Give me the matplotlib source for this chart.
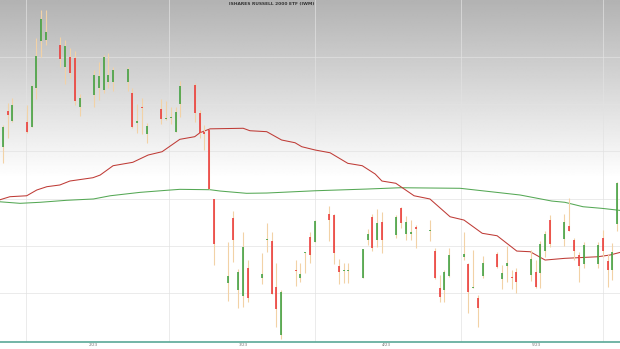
import numpy as np
import pandas as pd
import matplotlib
matplotlib.use("Agg")
import matplotlib.pyplot as plt

# ==============================================================================
# DATA
# ==============================================================================
TITLE = "ISHARES RUSSELL 2000 ETF (IWM)"
START_DATE = "2023-01-18"

OPENS = [185.48, 189.26, 188.20, 188.06, 187.59, 191.66, 196.66, 196.80, 196.24, 193.94,
         194.94, 194.83, 189.65, 190.95, 191.72, 191.48, 192.29, 192.36, 192.36, 191.13,
         188.02, 189.71, 186.79, 189.44, 188.38, 188.48, 187.07, 190.00, 192.01, 189.01,
         187.03, 187.25, 179.91, 171.03, 177.90, 170.32, 169.68, 172.68, 171.62, 175.61,
         175.50, 170.63, 165.56, 172.43, 171.62, 174.20, 175.89, 175.43, 178.33, 178.25,
         172.86, 172.33, 172.33, 171.56, 175.61, 178.07, 175.61, 177.48, 176.14, 178.96,
         176.21, 176.27, 177.01, 176.56, 174.44, 170.56, 170.32, 171.83, 173.84, 173.04,
         170.56, 169.44, 171.83, 174.09, 171.48, 172.89, 171.72, 172.25, 171.90, 172.19,
         172.08, 174.44, 177.72, 175.71, 177.12, 175.61, 174.02, 173.04, 173.04, 175.79,
         173.39, 172.43, 177.27]
HIGHS = [187.77, 190.13, 190.60, 189.89, 192.01, 196.95, 199.94, 199.94, 197.05, 196.77,
         195.89, 195.60, 191.02, 193.59, 194.47, 195.18, 195.36, 193.94, 193.94, 191.72,
         189.96, 190.60, 187.95, 190.49, 190.31, 189.71, 189.71, 192.43, 192.19, 189.36,
         187.77, 187.25, 179.91, 175.36, 178.68, 172.54, 176.49, 173.49, 174.20, 177.37,
         176.42, 173.14, 170.32, 173.49, 173.21, 174.37, 176.42, 177.72, 179.20, 178.33,
         173.60, 173.14, 173.14, 174.62, 176.77, 178.33, 178.89, 178.54, 178.25, 179.13,
         178.15, 177.72, 177.19, 177.72, 174.79, 171.90, 172.43, 174.73, 176.42, 173.14,
         174.55, 169.79, 173.95, 174.37, 172.96, 175.00, 172.43, 172.61, 174.55, 173.49,
         175.50, 176.56, 178.25, 178.33, 180.08, 175.79, 174.37, 175.36, 175.36, 176.67,
         174.09, 175.26, 181.78]
LOWS = [183.75, 186.37, 188.06, 186.90, 187.59, 190.53, 194.94, 196.24, 193.91, 192.11,
        192.72, 189.89, 188.76, 189.65, 190.42, 191.13, 191.72, 191.37, 191.37, 187.43,
        186.90, 186.79, 185.84, 187.85, 188.30, 187.88, 187.00, 188.65, 188.12, 186.37,
        185.13, 180.97, 172.96, 169.15, 173.31, 168.38, 168.55, 169.02, 170.92, 174.37,
        169.86, 166.43, 165.10, 170.77, 171.13, 172.08, 173.14, 175.36, 175.50, 173.04,
        170.92, 171.03, 171.09, 171.56, 175.08, 174.44, 174.90, 174.20, 175.79, 176.85,
        175.61, 175.61, 174.79, 175.50, 171.48, 169.08, 169.08, 171.72, 173.49, 167.85,
        170.50, 166.43, 171.56, 172.61, 170.42, 171.13, 170.42, 169.97, 171.27, 170.50,
        170.50, 173.84, 174.90, 175.00, 176.56, 173.49, 171.13, 172.68, 172.61, 173.84,
        170.67, 171.38, 176.56]
CLOSES = [187.59, 188.83, 189.89, 187.07, 191.90, 195.07, 198.99, 197.65, 194.76, 196.13,
          193.24, 190.31, 190.66, 193.06, 192.96, 195.00, 193.06, 193.59, 193.67, 187.59,
          188.20, 189.60, 187.67, 188.41, 188.48, 188.62, 189.12, 191.90, 189.01, 186.90,
          186.82, 180.97, 175.15, 171.80, 175.61, 172.25, 174.90, 169.44, 172.01, 175.71,
          169.86, 168.28, 170.07, 172.33, 171.98, 174.31, 174.02, 177.62, 177.72, 174.20,
          172.25, 172.43, 172.43, 174.62, 176.21, 174.79, 177.37, 175.61, 178.07, 177.37,
          177.48, 176.42, 176.77, 176.56, 171.62, 169.61, 172.25, 174.02, 174.09, 170.07,
          170.67, 168.44, 173.14, 172.78, 172.08, 173.14, 171.62, 171.20, 173.60, 170.67,
          175.15, 176.21, 175.15, 177.48, 176.56, 174.44, 172.89, 175.08, 175.08, 174.44,
          172.43, 174.37, 181.67]

# moving averages, sampled along the drawn lines (day offset from START_DATE)
FAST_MA_DAY = [-1.0, 1.5, 5.0, 7.1, 9.2, 11.9, 14.0, 18.8, 20.3, 23.0, 27.1, 30.3, 33.2,
               36.9, 40.0, 41.1, 43.2, 50.1, 51.5, 55.0, 58.1, 60.9, 62.3, 65.1, 68.2,
               71.9, 74.9, 77.6, 79.0, 81.9, 85.7, 89.0, 93.2, 96.1, 99.9, 103.0, 107.1,
               109.9, 113.0, 117.1, 124.0, 126.5, 129.0]
FAST_MA = [179.80, 180.19, 180.29, 180.90, 181.25, 181.43, 181.85, 182.20, 182.48, 183.47,
           183.83, 184.60, 184.95, 186.26, 186.54, 186.96, 187.37, 187.43, 187.17, 187.07,
           186.19, 185.90, 185.48, 185.13, 184.84, 183.72, 183.47, 182.59, 181.85, 181.61,
           180.29, 179.95, 178.07, 177.72, 176.32, 176.06, 174.44, 174.37, 173.49, 173.67,
           173.84, 174.02, 174.35]

SLOW_MA_DAY = [-1.0, 3.6, 7.8, 13.3, 18.9, 22.4, 28.6, 34.2, 36.9, 43.2, 45.3, 50.8, 55.0,
               65.1, 75.8, 82.8, 95.3, 103.6, 107.8, 114.4, 117.1, 120.9, 124.8, 129.0]
SLOW_MA = [179.67, 179.49, 179.60, 179.81, 179.95, 180.29, 180.65, 180.87, 180.97, 180.93,
           180.79, 180.55, 180.58, 180.82, 181.00, 181.14, 181.08, 180.61, 180.37, 179.73,
           179.60, 179.13, 178.96, 178.72]

TICK_DAYS = [18.8, 50.1, 80.0, 111.1]
TICK_LABELS = ["2/23", "3/23", "4/23", "5/23"]
VGRID_DAYS = [4.85, 34.6, 65.1, 95.5, 125.1]
HGRID_PRICES = [170, 175, 180, 185, 190, 195]

# ==============================================================================
# PLOT
# ==============================================================================
dates = pd.bdate_range(START_DATE, periods=len(OPENS))
x = np.array((dates - dates[0]).days, dtype=float)

o = np.array(OPENS)
h = np.array(HIGHS)
l = np.array(LOWS)
c = np.array(CLOSES)
up = c >= o

fig = plt.figure(figsize=(6.2, 3.49), dpi=100)
ax = fig.add_axes([0, 7 / 349, 1, 342 / 349])

# grey-to-white gradient in the upper half of the plot
rows = np.linspace(0, 1, 400)          # 0 = bottom, 1 = top
from_top = 1 - rows
shade = np.clip(0.70 + 0.30 * from_top / 0.52, 0, 1)
grad = np.repeat(shade[:, None], 2, axis=1)
ax.imshow(grad, cmap="gray", vmin=0, vmax=1, origin="lower", aspect="auto",
          extent=[0, 1, 0, 1], transform=ax.transAxes, zorder=0,
          interpolation="bilinear")

# grid (faint: a touch lighter on the grey, a touch darker on the white)
for p in HGRID_PRICES:
    ax.axhline(p, color="#e2e2e2", lw=0.7, alpha=0.7, zorder=1)
for d in VGRID_DAYS:
    ax.axvline(d, color="#e2e2e2", lw=0.7, alpha=0.7, zorder=1)

# moving averages
ax.plot(SLOW_MA_DAY, SLOW_MA, color="#55a855", lw=0.75, zorder=2)
ax.plot(FAST_MA_DAY, FAST_MA, color="#bf3b36", lw=0.75, zorder=2)

# candles: wicks then bodies
ax.vlines(x, l, h, color="#f2d2a6", lw=0.8, zorder=3)
body_lo = np.minimum(o, c)
body_hi = np.maximum(o, c)
tiny = (body_hi - body_lo) < 0.12
body_hi = np.where(tiny, body_lo + 0.12, body_hi)
ax.vlines(x[up], body_lo[up], body_hi[up], color="#349c38", lw=1.1, zorder=4)
ax.vlines(x[~up], body_lo[~up], body_hi[~up], color="#ea2f2f", lw=1.1, zorder=4)

ax.set_xlim(-0.5625, 128.6)
ax.set_ylim(164.82, 201.0)

for side in ["top", "left", "right"]:
    ax.spines[side].set_visible(False)
ax.spines["bottom"].set_color("#5aa897")
ax.spines["bottom"].set_linewidth(1.2)
ax.set_yticks([])
ax.set_xticks(TICK_DAYS)
ax.set_xticklabels(TICK_LABELS, fontsize=3, color="#777777")
ax.tick_params(axis="x", length=0, pad=1)

fig.text(272 / 620, 1 - 3.5 / 349, TITLE, ha="center", va="center",
         fontsize=3.2, fontweight="bold", color="#333333")

fig.savefig("out.png", dpi=100)
plt.close(fig)
